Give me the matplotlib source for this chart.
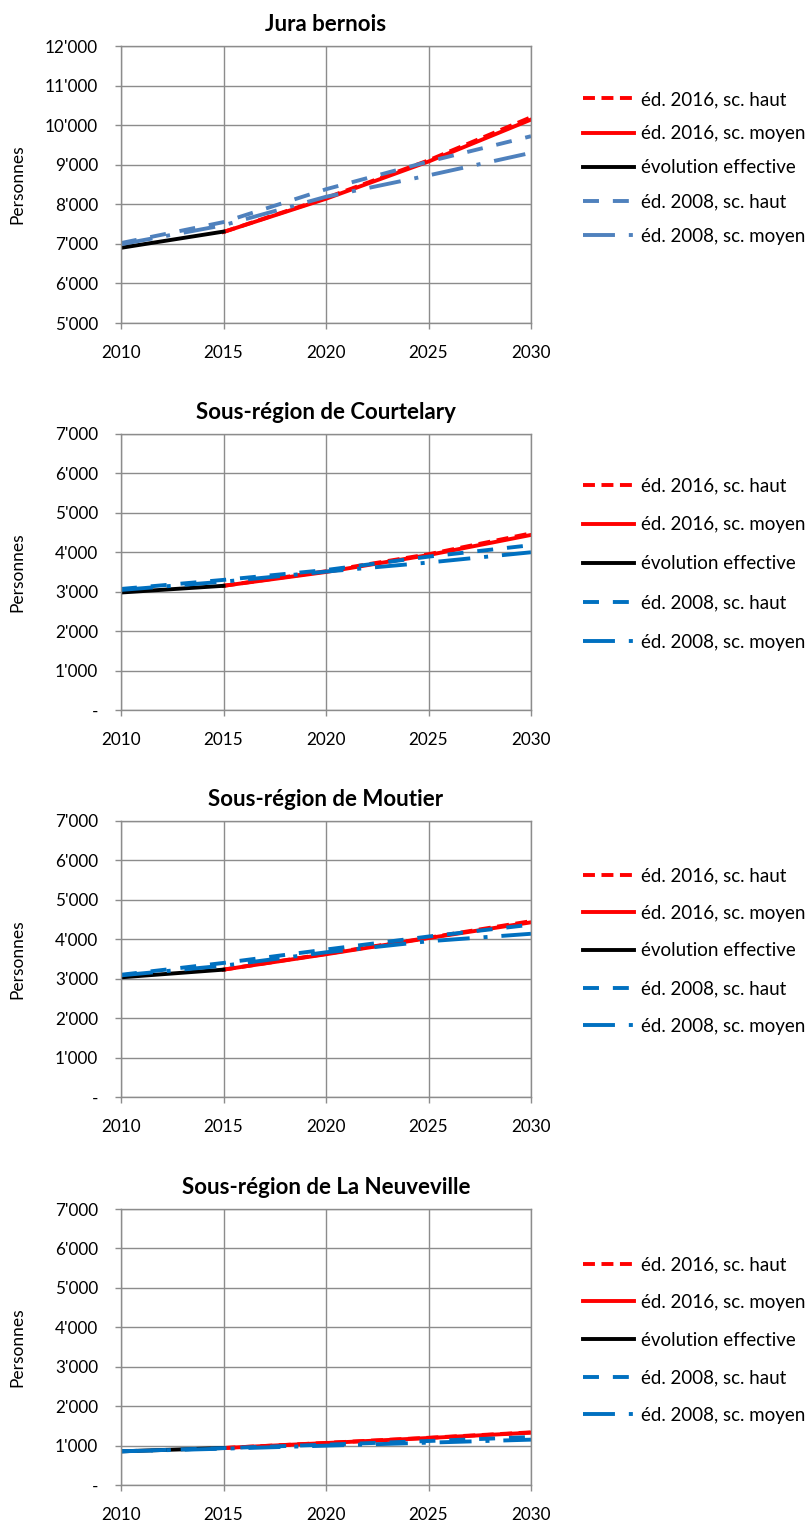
import matplotlib.pyplot as plt
from matplotlib.ticker import FuncFormatter, MultipleLocator

plt.rcParams['font.family'] = ['Lato', 'DejaVu Sans']
plt.rcParams['lines.scale_dashes'] = False

years = [2010, 2015, 2020, 2025, 2030]
years_new = [2015, 2020, 2025, 2030]
years_eff = [2010, 2015]

titles = ['Jura bernois', 'Sous-région de Courtelary',
          'Sous-région de Moutier', 'Sous-région de La Neuveville']

# 2016 edition, scenario haut / moyen (from 2015)
ed16_haut = [[7300, 8160, 9110, 10200],
             [3150, 3520, 3950, 4480],
             [3230, 3630, 4040, 4460],
             [938, 1068, 1198, 1335]]
ed16_moyen = [[7300, 8140, 9080, 10140],
              [3150, 3500, 3930, 4440],
              [3230, 3620, 4030, 4430],
              [938, 1065, 1192, 1327]]
# actual evolution
effective = [[6900, 7310],
             [2980, 3150],
             [3035, 3230],
             [854, 938]]
# 2008 edition, scenario haut / moyen
ed08_haut = [[7020, 7550, 8380, 9080, 9720],
             [3070, 3300, 3550, 3890, 4180],
             [3100, 3400, 3740, 4070, 4370],
             [854, 935, 1023, 1116, 1217]]
ed08_moyen = [[6990, 7470, 8190, 8730, 9300],
              [3045, 3255, 3510, 3740, 4000],
              [3085, 3330, 3670, 3950, 4140],
              [854, 921, 998, 1074, 1150]]

ylims = [(5000, 12000), (0, 7000), (0, 7000), (0, 7000)]
blues = ['#4F81BD', '#0070C0', '#0070C0', '#0070C0']

labels = ['éd. 2016, sc. haut', 'éd. 2016, sc. moyen', 'évolution effective',
          'éd. 2008, sc. haut', 'éd. 2008, sc. moyen']

# axes boxes in pixels: (top, bottom)
boxes = [(46, 323), (434, 710), (821, 1097), (1209, 1485)]
leg_y = [0.56, 0.529, 0.529, 0.525]
leg_sp = [0.92, 1.18, 1.1, 1.1]

W, H = 811, 1521
fig = plt.figure(figsize=(W / 100, H / 100), dpi=100)

def fmt(v, pos):
    if v == 0:
        return '-'
    return f"{int(v):,}".replace(',', "'")

lw = 2.8
for i in range(4):
    top, bot = boxes[i]
    ax = fig.add_axes([121 / W, 1 - bot / H, 410 / W, (bot - top) / H])
    ax.plot(years_new, ed16_haut[i], color='red', lw=lw, dashes=(8.6, 4.7), label=labels[0])
    ax.plot(years_new, ed16_moyen[i], color='red', lw=lw, label=labels[1])
    ax.plot(years_eff, effective[i], color='black', lw=lw, label=labels[2])
    ax.plot(years, ed08_haut[i], color=blues[i], lw=lw, dashes=(11.5, 10), label=labels[3])
    ax.plot(years, ed08_moyen[i], color=blues[i], lw=lw, dashes=(23, 10, 2.9, 10), label=labels[4])

    ax.set_xlim(2010, 2030)
    ax.set_ylim(*ylims[i])
    ax.xaxis.set_major_locator(MultipleLocator(5))
    ax.yaxis.set_major_locator(MultipleLocator(1000))
    ax.yaxis.set_major_formatter(FuncFormatter(fmt))
    ax.grid(True, color='#8c8c8c', lw=1.0)
    ax.set_axisbelow(True)
    for s in ax.spines.values():
        s.set_color('#8c8c8c')
        s.set_linewidth(1.0)
    ax.tick_params(axis='both', colors='#8c8c8c', length=4.5, width=1.0,
                   labelcolor='black', labelsize=12.3)
    ax.tick_params(axis='x', pad=11.5)
    ax.tick_params(axis='y', pad=12)
    ax.set_title(titles[i], fontsize=16, fontweight='bold', pad=11)
    ax.set_ylabel('Personnes', fontsize=12.5)
    ax.yaxis.set_label_coords(-0.234, 0.5)
    ax.legend(loc='center left', bbox_to_anchor=(1 + 52 / 410, leg_y[i]), frameon=False,
              fontsize=13.5, handlelength=2.7, handletextpad=0.38, borderpad=0,
              borderaxespad=0, labelspacing=leg_sp[i])

fig.savefig('out.png', dpi=100)
